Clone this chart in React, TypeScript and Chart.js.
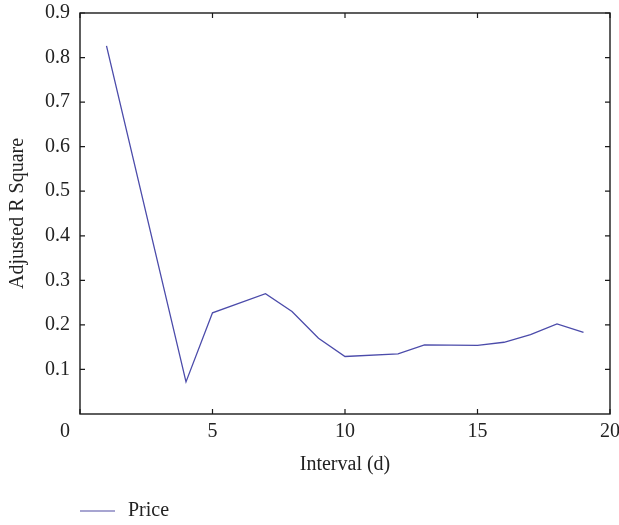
import React, { useEffect, useRef } from "react";
import { Chart, registerables } from "chart.js";

Chart.register(...registerables);

const intervals = [1, 4, 5, 7, 8, 9, 10, 12, 13, 15, 16, 17, 18, 19];
const priceValues = [0.826, 0.072, 0.227, 0.27, 0.23, 0.17, 0.129, 0.135, 0.155, 0.154, 0.161, 0.178, 0.202, 0.183];
const xTicks = [0, 5, 10, 15, 20];
const yTicks = [0.1, 0.2, 0.3, 0.4, 0.5, 0.6, 0.7, 0.8, 0.9];
const seriesLabel = "Price";
const xTitle = "Interval (d)";
const yTitle = "Adjusted R Square";

const FONT = "'Liberation Serif', 'Times New Roman', serif";
const LINE_COLOR = "#4b4baa";

const framePlugin = {
  id: "frame",
  afterDraw(chart: any) {
    const { ctx, chartArea } = chart;
    const { left, right, top, bottom } = chartArea;
    const xs = chart.scales.x;
    const ys = chart.scales.y;
    ctx.save();
    ctx.strokeStyle = "#1a1a1a";
    ctx.lineWidth = 1.4;
    ctx.strokeRect(left, top, right - left, bottom - top);
    ctx.lineWidth = 1.2;
    ctx.beginPath();
    const tl = 5;
    xTicks.forEach((v) => {
      const px = xs.getPixelForValue(v);
      ctx.moveTo(px, bottom);
      ctx.lineTo(px, bottom - tl);
      ctx.moveTo(px, top);
      ctx.lineTo(px, top + tl);
    });
    yTicks.forEach((v) => {
      const py = ys.getPixelForValue(v);
      ctx.moveTo(left, py);
      ctx.lineTo(left + tl, py);
      ctx.moveTo(right, py);
      ctx.lineTo(right - tl, py);
    });
    ctx.stroke();
    // corner zero label
    ctx.fillStyle = "#222";
    ctx.font = `20px ${FONT}`;
    ctx.textAlign = "center";
    ctx.textBaseline = "middle";
    ctx.fillText("0", xs.getPixelForValue(0) - 15, bottom + 18);
    // legend
    const ly = 511;
    ctx.strokeStyle = "#8a87c2";
    ctx.lineWidth = 1.6;
    ctx.beginPath();
    ctx.moveTo(80, ly);
    ctx.lineTo(115, ly);
    ctx.stroke();
    ctx.textAlign = "left";
    ctx.fillText(chart.data.datasets[0].label, 128, ly);
    ctx.restore();
  },
};

export default function App() {
  const ref = useRef<HTMLCanvasElement | null>(null);
  useEffect(() => {
    if (!ref.current) return;
    const chart = new Chart(ref.current, {
      type: "line",
      data: {
        datasets: [
          {
            label: seriesLabel,
            data: intervals.map((x, i) => ({ x, y: priceValues[i] })),
            borderColor: LINE_COLOR,
            backgroundColor: LINE_COLOR,
            borderWidth: 1.3,
            pointRadius: 0,
            tension: 0,
            fill: false,
          },
        ],
      },
      options: {
        animation: false,
        responsive: false,
        maintainAspectRatio: false,
        layout: { padding: { top: 13, right: 9, bottom: 48, left: 0 } },
        plugins: {
          legend: { display: false },
          tooltip: { enabled: false },
          title: { display: false },
        },
        scales: {
          x: {
            type: "linear",
            min: 0,
            max: 20,
            afterBuildTicks: (s: any) => {
              s.ticks = xTicks.map((v) => ({ value: v }));
            },
            ticks: {
              padding: 6,
              color: "#222",
              font: { family: FONT, size: 20 },
              maxRotation: 0,
              autoSkip: false,
              callback: (v: any) => (v === 0 ? "" : String(v)),
            },
            grid: { display: false, drawTicks: false },
            border: { display: false },
            title: {
              display: true,
              text: xTitle,
              color: "#222",
              font: { family: FONT, size: 20 },
              padding: { top: 0, bottom: 0 },
            },
            afterFit: (s: any) => {
              s.height = 63;
              s.paddingLeft = 0;
              s.paddingRight = 0;
              s.paddingTop = 0;
              s.paddingBottom = 0;
            },
          },
          y: {
            type: "linear",
            min: 0,
            max: 0.9,
            afterBuildTicks: (s: any) => {
              s.ticks = yTicks.map((v) => ({ value: v }));
            },
            ticks: {
              padding: 10,
              color: "#222",
              font: { family: FONT, size: 20 },
              autoSkip: false,
              callback: (v: any) => Number(v).toFixed(1),
            },
            grid: { display: false, drawTicks: false },
            border: { display: false },
            title: {
              display: true,
              text: yTitle,
              color: "#222",
              font: { family: FONT, size: 20 },
              padding: { top: 6, bottom: 0 },
            },
            afterFit: (s: any) => {
              s.width = 80;
              s.paddingLeft = 0;
              s.paddingRight = 0;
              s.paddingTop = 0;
              s.paddingBottom = 0;
            },
          },
        },
      },
      plugins: [framePlugin],
    });
    return () => chart.destroy();
  }, []);
  return (
    <div style={{ position: "absolute", left: 0, top: 0, width: 619, height: 525, background: "#fff" }}>
      <canvas ref={ref} width={619} height={525} style={{ display: "block", width: 619, height: 525 }} />
    </div>
  );
}
